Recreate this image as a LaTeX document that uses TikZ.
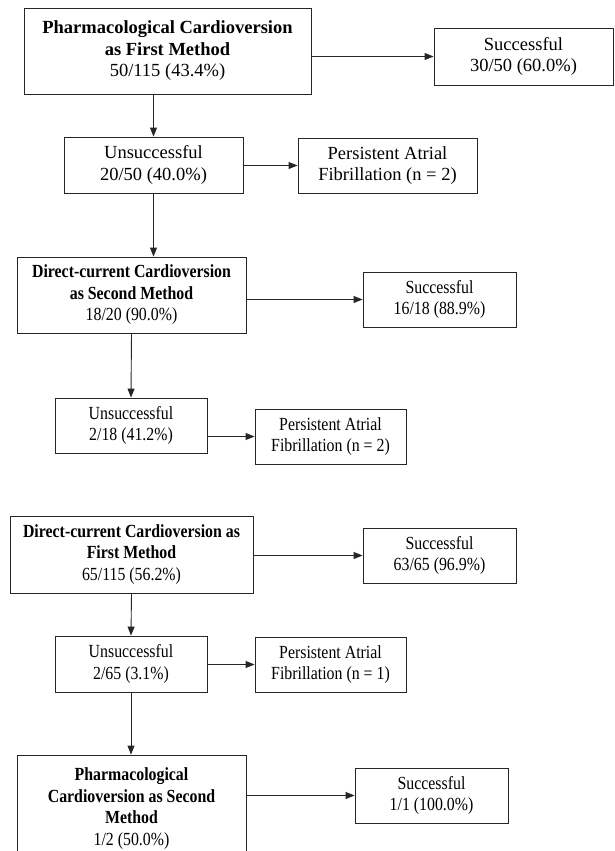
\documentclass[tikz,border=0pt]{standalone}
\usepackage{fontspec}
\setmainfont{Liberation Serif}
\newfontfamily\narrowserif[FakeStretch=0.857]{Liberation Serif}
\usetikzlibrary{arrows.meta}
\begin{document}
\begin{tikzpicture}[x=1pt,y=-1pt,
  box/.style={draw=black!85, line width=0.9pt, align=center, inner sep=0pt,
    font=\fontsize{18.5}{21.5}\selectfont},
  boxs/.style={box, font=\narrowserif\fontsize{18.5}{21.5}\selectfont},
  arr/.style={draw=black!85, line width=0.9pt, -{Triangle[length=9pt,width=7pt]}}]
\useasboundingbox[fill=white] (0,0) rectangle (614,851);
% first scheme
\node[box, minimum width=287, minimum height=86] (b1) at (167.5,51)
  {\textbf{Pharmacological Cardioversion}\\\textbf{as First Method}\\50/115 (43.4\%)};
\node[box, minimum width=179, minimum height=57] (s1) at (523.5,56.5)
  {Successful\\30/50 (60.0\%)};
\node[box, minimum width=179, minimum height=56] (u1) at (153.5,165)
  {Unsuccessful\\20/50 (40.0\%)};
\node[box, minimum width=179, minimum height=55] (p1) at (387.5,165.5)
  {Persistent Atrial\\Fibrillation (n = 2)};
\node[boxs, minimum width=229, minimum height=76] (d2) at (131.5,295)
  {\textbf{Direct-current Cardioversion}\\\textbf{as Second Method}\\18/20 (90.0\%)};
\node[boxs, minimum width=153, minimum height=55] (s2) at (439.5,299.5)
  {Successful\\16/18 (88.9\%)};
\node[boxs, minimum width=152, minimum height=55] (u2) at (131,425.5)
  {Unsuccessful\\2/18 (41.2\%)};
\node[boxs, minimum width=151, minimum height=55] (p2) at (330.5,436.5)
  {Persistent Atrial\\Fibrillation (n = 2)};
\draw[arr] (b1.east |- s1.west) -- (s1.west);
\draw[arr] (u1.north |- b1.south) -- (u1.north);
\draw[arr] (u1.east |- p1.west) -- (p1.west);
\draw[arr] (u1.south) -- (u1.south |- d2.north);
\draw[arr] (d2.east |- s2.west) -- (s2.west);
\draw[arr] (d2.south) -- (u2.north);
\draw[arr] (u2.east |- p2.west) -- (p2.west);
% second scheme
\node[boxs, minimum width=243, minimum height=77] (d1) at (131.5,554.5)
  {\textbf{Direct-current Cardioversion as}\\\textbf{First Method}\\65/115 (56.2\%)};
\node[boxs, minimum width=153, minimum height=55] (s3) at (439.5,555.5)
  {Successful\\63/65 (96.9\%)};
\node[boxs, minimum width=152, minimum height=56] (u3) at (131,664)
  {Unsuccessful\\2/65 (3.1\%)};
\node[boxs, minimum width=151, minimum height=55] (p3) at (330.5,664.5)
  {Persistent Atrial\\Fibrillation (n = 1)};
\node[boxs, minimum width=229, minimum height=103, text depth=0pt] (c2) at (131.5,806.5)
  {\textbf{Pharmacological}\\\textbf{Cardioversion as Second}\\\textbf{Method}\\1/2 (50.0\%)};
\node[boxs, minimum width=153, minimum height=55] (s4) at (431.5,795.5)
  {Successful\\1/1 (100.0\%)};
\draw[arr] (d1.east |- s3.west) -- (s3.west);
\draw[arr] (d1.south) -- (u3.north);
\draw[arr] (u3.east |- p3.west) -- (p3.west);
\draw[arr] (u3.south) -- (u3.south |- c2.north);
\draw[arr] (c2.east |- s4.west) -- (s4.west);
\end{tikzpicture}
\end{document}
